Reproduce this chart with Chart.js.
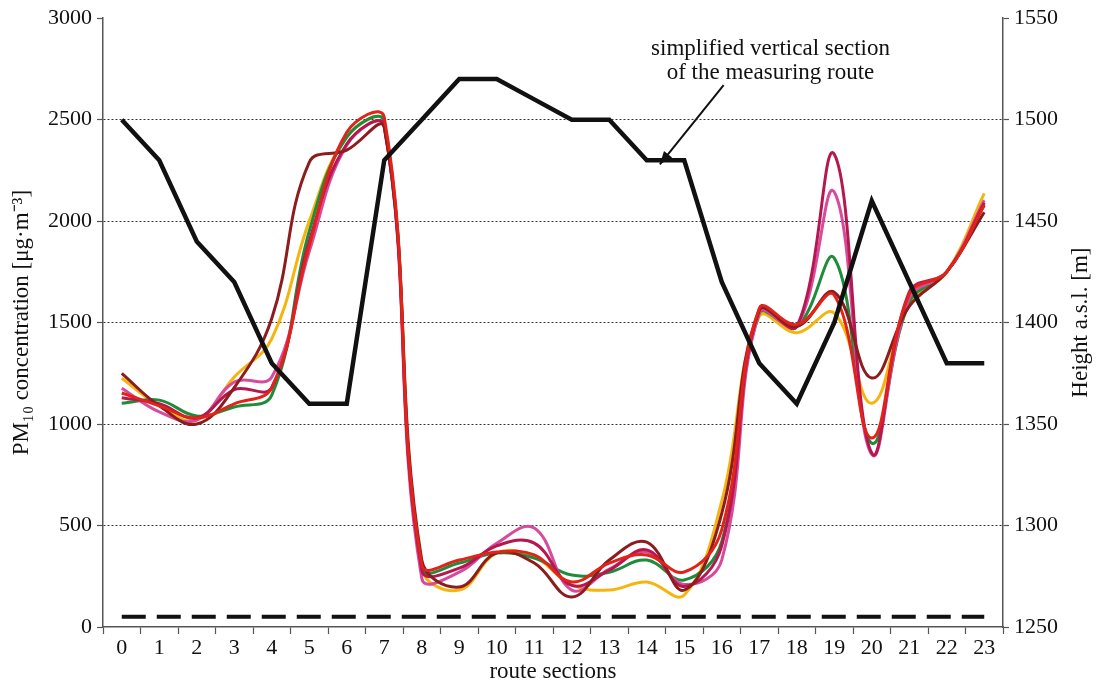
<!DOCTYPE html>
<html><head><meta charset="utf-8">
<script src="https://cdn.jsdelivr.net/npm/chart.js@4"></script>
<style>html,body{margin:0;padding:0;background:#fff}</style>
</head><body>
<canvas id="c" width="1098" height="686"></canvas>
<script>
const sections = ['0','1','2','3','4','5','6','7','8','9','10','11','12','13','14','15','16','17','18','19','20','21','22','23'];
const heightASL = [1500,1480,1440,1420,1380,1360,1360,1480,1500,1520,1520,1510,1500,1500,1480,1480,1420,1380,1360,1400,1460,1420,1380,1380];
const limitLine = [50,50,50,50,50,50,50,50,50,50,50,50,50,50,50,50,50,50,50,50,50,50,50,50];
const seriesDarkRed = [1250,1090,1000,1180,1520,2290,2350,2460,330,197,365,315,148,330,418,182,560,1560,1480,1650,1227,1580,1750,2044];
const seriesCrimson = [1130,1100,1030,1170,1180,1900,2380,2470,280,290,400,413,205,280,380,200,400,1565,1480,2330,857,1650,1750,2090];
const seriesPink    = [1177,1060,1020,1207,1232,1850,2374,2470,240,270,413,488,182,285,370,210,330,1550,1480,2143,850,1620,1750,2103];
const seriesGreen   = [1103,1118,1040,1084,1143,1950,2414,2490,290,315,365,340,256,270,330,232,420,1545,1480,1818,906,1600,1750,2080];
const seriesOrange  = [1226,1090,1020,1232,1420,2000,2414,2490,290,182,365,345,207,182,222,158,620,1530,1450,1547,1103,1590,1750,2137];
const seriesRed     = [1153,1090,1030,1100,1180,1880,2438,2512,305,330,370,355,222,315,355,271,480,1570,1490,1635,931,1640,1750,2078];
const leftTicks = [0,500,1000,1500,2000,2500,3000];
const rightTicks = [1250,1300,1350,1400,1450,1500,1550];
const annotationLines = ['simplified vertical section','of the measuring route'];

const FONT = '"Liberation Serif", "Times New Roman", serif';
const tickFont = {family: FONT, size: 22};
const titleFont = {family: FONT, size: 23};

function colored(data, color){
  return {data, borderColor: color, borderWidth: 3, pointRadius: 0, tension: 0.4, fill: false, yAxisID: 'y'};
}

const annot = {
  id: 'annot',
  afterDatasetsDraw(chart){
    const ctx = chart.ctx, x = chart.scales.x, yr = chart.scales.y1;
    ctx.save();
    ctx.fillStyle = '#111';
    ctx.font = '23px ' + FONT;
    ctx.textAlign = 'center';
    ctx.textBaseline = 'middle';
    ctx.fillText(annotationLines[0], x.getPixelForValue(17.3), yr.getPixelForValue(1535));
    ctx.fillText(annotationLines[1], x.getPixelForValue(17.3), yr.getPixelForValue(1523));
    const x1 = x.getPixelForValue(16.05), y1 = yr.getPixelForValue(1517);
    const x2 = x.getPixelForValue(14.35), y2 = yr.getPixelForValue(1478);
    ctx.strokeStyle = '#111'; ctx.lineWidth = 2;
    ctx.beginPath(); ctx.moveTo(x1, y1); ctx.lineTo(x2, y2); ctx.stroke();
    const a = Math.atan2(y2 - y1, x2 - x1), L = 14, W = 0.38;
    ctx.beginPath();
    ctx.moveTo(x2, y2);
    ctx.lineTo(x2 - L*Math.cos(a - W), y2 - L*Math.sin(a - W));
    ctx.lineTo(x2 - L*Math.cos(a + W), y2 - L*Math.sin(a + W));
    ctx.closePath(); ctx.fill();
    // right axis title (reads bottom-to-top)
    const ca = chart.chartArea;
    ctx.translate(1081, (ca.top + ca.bottom)/2);
    ctx.rotate(-Math.PI/2);
    ctx.fillText('Height a.s.l. [m]', 0, 0);
    ctx.restore();
  }
};

new Chart(document.getElementById('c'), {
  type: 'line',
  data: {
    labels: sections,
    datasets: [
      {data: heightASL, borderColor: '#111', borderWidth: 4.5, pointRadius: 0, tension: 0, yAxisID: 'y1', borderJoinStyle: 'miter'},
      colored(seriesRed, '#e2231a'),
      colored(seriesDarkRed, '#8c1c1e'),
      colored(seriesCrimson, '#b5174f'),
      colored(seriesPink, '#d84a9c'),
      colored(seriesGreen, '#1f8c3b'),
      colored(seriesOrange, '#f6b40e'),
      {data: limitLine, borderColor: '#111', borderWidth: 4, borderDash: [24, 11], pointRadius: 0, tension: 0, yAxisID: 'y'}
    ]
  },
  options: {
    responsive: false,
    animation: false,
    events: [],
    layout: {padding: {top: 18, left: 0, right: 0, bottom: 0}},
    plugins: {legend: {display: false}, tooltip: {enabled: false}},
    scales: {
      x: {
        type: 'category',
        offset: true,
        grid: {drawOnChartArea: false, drawTicks: true, tickLength: 7, color: '#555', offset: true, tickWidth: 1.2},
        border: {color: '#555', width: 1.5},
        ticks: {font: tickFont, color: '#111', padding: 1, maxRotation: 0, autoSkip: false},
        title: {display: true, text: 'route sections', font: titleFont, color: '#111', padding: {top: 0, bottom: 0}},
        afterFit(s){ s.height = 59; }
      },
      y: {
        position: 'left',
        min: 0, max: 3000,
        afterBuildTicks(s){ s.ticks = leftTicks.map(v => ({value: v})); },
        grid: {
          color: c => (c.tick && (c.tick.value === 0 || c.tick.value === 3000)) ? 'rgba(0,0,0,0)' : '#333',
          lineWidth: 1, tickColor: '#555', tickLength: 6, tickBorderDash: [], tickWidth: 1.2
        },
        border: {color: '#555', width: 1.5, dash: [2, 2]},
        ticks: {font: tickFont, color: '#111', padding: 5, callback: v => String(v)},
        title: {display: true, text: 'PM₁₀ concentration [μg·m⁻³]', font: titleFont, color: '#111', padding: {top: 8, bottom: 0}},
        afterFit(s){ s.width = 103; }
      },
      y1: {
        position: 'right',
        min: 1250, max: 1550,
        afterBuildTicks(s){ s.ticks = rightTicks.map(v => ({value: v})); },
        grid: {drawOnChartArea: false, tickColor: '#555', tickLength: 6, tickWidth: 1.2},
        border: {color: '#555', width: 1.5},
        ticks: {font: tickFont, color: '#111', padding: 5, callback: v => String(v)},
        afterFit(s){ s.width = 95; }
      }
    }
  },
  plugins: [annot]
});
</script>
</body></html>
